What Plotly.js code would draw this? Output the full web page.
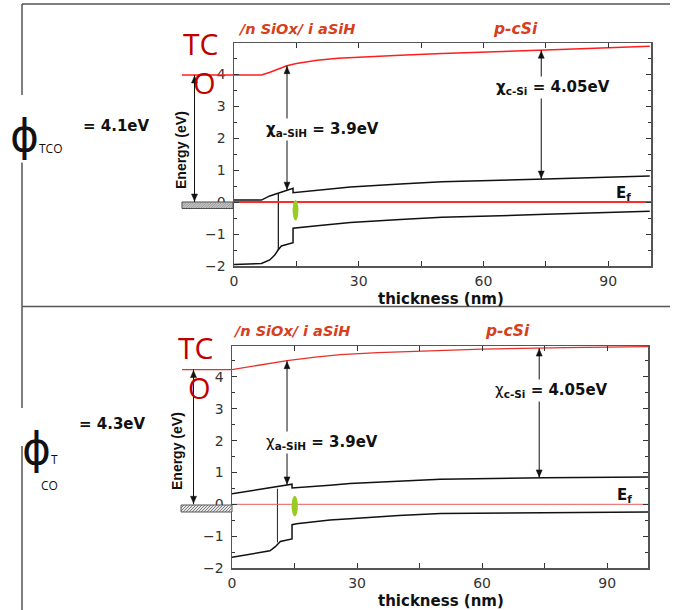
<!DOCTYPE html>
<html><head><meta charset="utf-8">
<script src="https://cdn.plot.ly/plotly-3.0.1.min.js"></script>
<style>html,body{margin:0;padding:0;background:#fff;} #chart{width:673px;height:610px;}</style>
</head><body><div id="chart"></div>
<script>
// ---------- Panel A : phi_TCO = 4.1 eV ----------
const vacA_x = [0, 6.6, 8.5, 10.5, 12.7, 15, 20, 25, 32, 40, 50, 60, 75, 100];
const vacA_y = [3.97, 3.97, 4.05, 4.16, 4.26, 4.33, 4.43, 4.49, 4.54, 4.59, 4.64, 4.68, 4.75, 4.87];
const cbA_x  = [0, 6.6, 8.6, 10.6, 12.3, 13.6, 14.2, 14.2, 20, 28, 40, 50, 75, 100];
const cbA_y  = [0.06, 0.06, 0.19, 0.27, 0.35, 0.41, 0.43, 0.29, 0.37, 0.47, 0.56, 0.63, 0.72, 0.81];
const vbA_x  = [0, 6.6, 8.6, 9.8, 10.6, 11.4, 14.2, 14.2, 20, 28, 40, 50, 75, 100];
const vbA_y  = [-1.95, -1.92, -1.81, -1.66, -1.50, -1.375, -1.27, -0.82, -0.745, -0.64, -0.55, -0.48, -0.385, -0.29];
const ifA_x  = [10.66, 10.66];
const ifA_y  = [-1.50, 0.27];
const efA_x  = [0, 100.3];
const efA_y  = [0, 0];

// ---------- Panel B : phi_TCO = 4.3 eV ----------
const vacB_x = [0, 5, 10, 13.2, 20, 26, 35, 45, 60, 80, 100];
const vacB_y = [4.23, 4.33, 4.44, 4.51, 4.62, 4.70, 4.76, 4.81, 4.87, 4.92, 4.95];
const cbB_x  = [0, 12.7, 14.4, 14.4, 19.5, 23.5, 28.3, 40, 50, 75, 100];
const cbB_y  = [0.33, 0.60, 0.63, 0.51, 0.57, 0.60, 0.65, 0.73, 0.79, 0.83, 0.86];
const vbB_x  = [0, 9.1, 10.4, 11.6, 14.4, 14.4, 15.5, 19.5, 23.5, 28.3, 40, 50, 75, 100];
const vbB_y  = [-1.66, -1.46, -1.33, -1.17, -1.09, -0.64, -0.61, -0.54, -0.49, -0.45, -0.35, -0.29, -0.26, -0.24];
const ifB_x  = [10.9, 10.9];
const ifB_y  = [-1.20, 0.49];
const efB_x  = [0, 100];
const efB_y  = [0, 0];

// labels
const layerLabel = "/n SiOx/ i aSiH";
const bulkLabel = "p-cSi";
const phiValues = ["4.1eV", "4.3eV"];
const chiASi = "3.9eV";
const chiCSi = "4.05eV";

// ---------- helpers ----------
const W = 673, H = 610;
const px = v => v / W;
const py = v => 1 - v / H;
function interp(xs, ys, x) {
  for (let i = 0; i < xs.length - 1; i++) {
    if (x >= xs[i] && x <= xs[i + 1] && xs[i + 1] !== xs[i]) {
      return ys[i] + (ys[i + 1] - ys[i]) * (x - xs[i]) / (xs[i + 1] - xs[i]);
    }
  }
  return ys[ys.length - 1];
}
function hatchPath(x0, x1, yTop, yBot, step) {
  const h = yBot - yTop;
  let p = '';
  for (let s = x0 - h; s < x1; s += step) {
    let ax = s, ay = yBot, bx = s + h, by = yTop;
    if (ax < x0) { ay = yBot - (x0 - ax); ax = x0; }
    if (bx > x1) { by = yTop + (bx - x1); bx = x1; }
    if (ax >= bx) continue;
    p += `M${px(ax)},${py(ay)}L${px(bx)},${py(by)}`;
  }
  return p;
}

const FONT = 'Liberation Sans, Arial, sans-serif';
const WIDE = 'DejaVu Sans, Verdana, sans-serif';
const blk = {color: '#111', width: 1.5};
const traces = [
  {x: vacA_x, y: vacA_y, xaxis: 'x', yaxis: 'y', mode: 'lines', line: {color: '#ff1e1e', width: 1.5}},
  {x: cbA_x, y: cbA_y, xaxis: 'x', yaxis: 'y', mode: 'lines', line: blk},
  {x: vbA_x, y: vbA_y, xaxis: 'x', yaxis: 'y', mode: 'lines', line: blk},
  {x: ifA_x, y: ifA_y, xaxis: 'x', yaxis: 'y', mode: 'lines', line: {color: '#111', width: 1.2}},
  {x: efA_x, y: efA_y, xaxis: 'x', yaxis: 'y', mode: 'lines', line: {color: '#ff2a2a', width: 2}},
  {x: vacB_x, y: vacB_y, xaxis: 'x2', yaxis: 'y2', mode: 'lines', line: {color: '#e8302a', width: 1.3}},
  {x: cbB_x, y: cbB_y, xaxis: 'x2', yaxis: 'y2', mode: 'lines', line: blk},
  {x: vbB_x, y: vbB_y, xaxis: 'x2', yaxis: 'y2', mode: 'lines', line: blk},
  {x: ifB_x, y: ifB_y, xaxis: 'x2', yaxis: 'y2', mode: 'lines', line: {color: '#222', width: 1}},
  {x: efB_x, y: efB_y, xaxis: 'x2', yaxis: 'y2', mode: 'lines', line: {color: '#e85a5a', width: 1}}
];

const axBase = {
  showline: true, mirror: 'ticks', linecolor: '#555', linewidth: 1.5,
  ticks: 'inside', ticklen: 5, tickwidth: 1, tickcolor: '#333',
  showgrid: false, zeroline: false, fixedrange: true,
  tickfont: {family: WIDE, size: 14, color: '#333'}
};
const xAx = (dom, rng, anchor) => Object.assign({}, axBase, {
  domain: dom, range: rng, anchor: anchor, tick0: 0, dtick: 30, ticklabelstandoff: 2,
  minor: {dtick: 15, ticks: 'inside', ticklen: 5, tickcolor: '#333'}
});
const yAx = (dom, anchor) => Object.assign({}, axBase, {
  domain: dom, range: [-2, 4.97], anchor: anchor, tick0: 0, dtick: 1, ticklabelstandoff: 4,
  minor: {dtick: 0.5, ticks: 'inside', ticklen: 3, tickcolor: '#333'}
});

function txt(text, x, y, size, opt) {
  return Object.assign({
    xref: 'paper', yref: 'paper', x: px(x), y: py(y), text: text, showarrow: false,
    xanchor: 'center', yanchor: 'middle',
    font: {family: WIDE, size: size, color: '#111'}
  }, opt || {});
}

// double-headed vertical arrows built from shapes (line + two pixel-sized heads)
const AC = '#111';
function vArrow(xr, yr, xv, yBot, yTop) {
  const head = (yv, path) => ({type: 'path', xref: xr, yref: yr, xsizemode: 'pixel', ysizemode: 'pixel',
    xanchor: xv, yanchor: yv, path: path, fillcolor: AC, line: {color: AC, width: 0.5}, layer: 'above'});
  return [
    {type: 'line', xref: xr, yref: yr, x0: xv, x1: xv, y0: yBot, y1: yTop,
      line: {color: AC, width: 1}, layer: 'above'},
    head(yTop, 'M0,-1 L-3,-8 L3,-8 Z'),
    head(yBot, 'M0,1 L-3,8 L3,8 Z')
  ];
}
function chiArrow(vx, vy, cx, cy, xa, xr, yr) {
  return vArrow(xr, yr, xa, interp(cx, cy, xa), interp(vx, vy, xa));
}

const red = '#c00000', orange = '#d6401c';
const OS = 'Open Sans, sans-serif';
const annotations = [
  // panel A texts
  txt('TC', 200, 44, 30, {font: {family: OS, size: 30, color: red}}),
  txt('O', 205, 83, 29, {font: {family: OS, size: 29, color: red}}),
  txt('<b><i>' + layerLabel + '</i></b>', 296, 29, 14, {font: {family: WIDE, size: 14.5, color: orange}}),
  txt('<b><i>' + bulkLabel + '</i></b>', 515, 29, 15, {font: {family: WIDE, size: 15.5, color: orange}}),
  txt('<b>Energy (eV)</b>', 181, 150, 14, {textangle: -90, font: {family: FONT, size: 14, color: '#111'}}),
  txt('<b>thickness (nm)</b>', 441, 299, 15),
  txt('<b>χ<sub>a-SiH</sub> = ' + chiASi + '</b>', 322, 129, 15, {bgcolor: 'white'}),
  txt('<b>χ<sub>c-Si</sub> = ' + chiCSi + '</b>', 553, 88, 15, {bgcolor: 'white'}),
  txt('<b>E<sub>f</sub></b>', 623, 193, 15),
  txt('ϕ', 24, 135, 44, {font: {family: WIDE, size: 44, color: '#111'}, bgcolor: 'white'}),
  txt('TCO', 51, 148, 12, {font: {family: OS, size: 12, color: '#111'}}),
  txt('<b>= ' + phiValues[0] + '</b>', 116, 126, 15),
  // panel B texts
  txt('TC', 195, 347, 30, {font: {family: OS, size: 30, color: red}}),
  txt('O', 199, 387, 29, {font: {family: OS, size: 29, color: red}}),
  txt('<b><i>' + layerLabel + '</i></b>', 291, 331, 14, {font: {family: WIDE, size: 14.5, color: orange}}),
  txt('<b><i>' + bulkLabel + '</i></b>', 507, 331, 15, {font: {family: WIDE, size: 15.5, color: orange}}),
  txt('<b>Energy (eV)</b>', 177, 451, 14, {textangle: -90, font: {family: FONT, size: 14, color: '#111'}}),
  txt('<b>thickness (nm)</b>', 441, 601, 15),
  txt('χ<sub><b>a-SiH</b></sub><b> = ' + chiASi + '</b>', 322, 442, 15, {bgcolor: 'white'}),
  txt('χ<sub><b>c-Si</b></sub><b> = ' + chiCSi + '</b>', 551, 390, 15, {bgcolor: 'white'}),
  txt('<b>E<sub>f</sub></b>', 624, 495, 15),
  txt('ϕ', 36, 448, 44, {font: {family: WIDE, size: 44, color: '#111'}}),
  txt('T', 54, 460, 12, {font: {family: OS, size: 12, color: '#111'}}),
  txt('CO', 49, 485, 12, {font: {family: OS, size: 12, color: '#111'}}),
  txt('<b>= ' + phiValues[1] + '</b>', 112, 424, 15)
];

const frame = {color: '#555', width: 1.5};
const pline = (x0, y0, x1, y1, line) => ({type: 'line', xref: 'paper', yref: 'paper',
  x0: px(x0), y0: py(y0), x1: px(x1), y1: py(y1), line: line, layer: 'above'});
const shapes = [
  pline(22, 4, 670, 4, frame),
  pline(22, 306.5, 670, 306.5, frame),
  pline(22, 4, 22, 95, frame),
  pline(22, 153, 22, 306.5, frame),
  pline(22, 306.5, 22, 408, frame),
  pline(22, 446, 22, 610, frame),
  // TCO level extension left of the plots
  {type: 'line', xref: 'paper', yref: 'y', x0: px(182), x1: px(234), y0: vacA_y[0], y1: vacA_y[0],
    line: {color: '#ff1e1e', width: 1.5}},
  {type: 'line', xref: 'paper', yref: 'y2', x0: px(182), x1: px(232), y0: vacB_y[0], y1: vacB_y[0],
    line: {color: '#e8302a', width: 1.3}},
  // TCO contact (hatched)
  {type: 'rect', xref: 'paper', yref: 'paper', x0: px(182), x1: px(233), y0: py(208.5), y1: py(202),
    fillcolor: '#c4c4c4', line: {color: '#444', width: 1}, layer: 'above'},
  {type: 'path', xref: 'paper', yref: 'paper', path: hatchPath(182, 233, 202, 208.5, 2.5),
    line: {color: '#8a8a8a', width: 0.7}, layer: 'above'},
  {type: 'rect', xref: 'paper', yref: 'paper', x0: px(181), x1: px(232), y0: py(512), y1: py(505),
    fillcolor: '#e6e6e6', line: {color: '#555', width: 1}, layer: 'above'},
  {type: 'path', xref: 'paper', yref: 'paper', path: hatchPath(181, 232, 505, 512, 3),
    line: {color: '#666', width: 0.8}, layer: 'above'},
  // green markers at the interface
  {type: 'circle', xref: 'x', yref: 'y', x0: 14.1, x1: 15.5, y0: -0.58, y1: 0.06,
    fillcolor: '#99cc22', line: {width: 0}, layer: 'above'},
  {type: 'circle', xref: 'x2', yref: 'y2', x0: 14.3, x1: 15.8, y0: -0.38, y1: 0.27,
    fillcolor: '#99cc22', line: {width: 0}, layer: 'above'}
].concat(
  vArrow('paper', 'y', px(194.5), 0, vacA_y[0]),
  chiArrow(vacA_x, vacA_y, cbA_x, cbA_y, 12.75, 'x', 'y'),
  chiArrow(vacA_x, vacA_y, cbA_x, cbA_y, 73.9, 'x', 'y'),
  vArrow('paper', 'y2', px(193.5), 0, vacB_y[0]),
  chiArrow(vacB_x, vacB_y, cbB_x, cbB_y, 13.2, 'x2', 'y2'),
  chiArrow(vacB_x, vacB_y, cbB_x, cbB_y, 73.7, 'x2', 'y2')
);

const layout = {
  width: W, height: H, margin: {l: 0, r: 0, t: 0, b: 0},
  paper_bgcolor: '#fff', plot_bgcolor: '#fff', showlegend: false,
  xaxis: xAx([px(234), px(651)], [0, 100.3], 'y'),
  yaxis: yAx([py(266), py(43)], 'x'),
  xaxis2: xAx([px(232), px(648)], [0, 99.8], 'y2'),
  yaxis2: yAx([py(568), py(346)], 'x2'),
  annotations: annotations,
  shapes: shapes
};

Plotly.newPlot('chart', traces, layout, {staticPlot: true});
</script></body></html>
